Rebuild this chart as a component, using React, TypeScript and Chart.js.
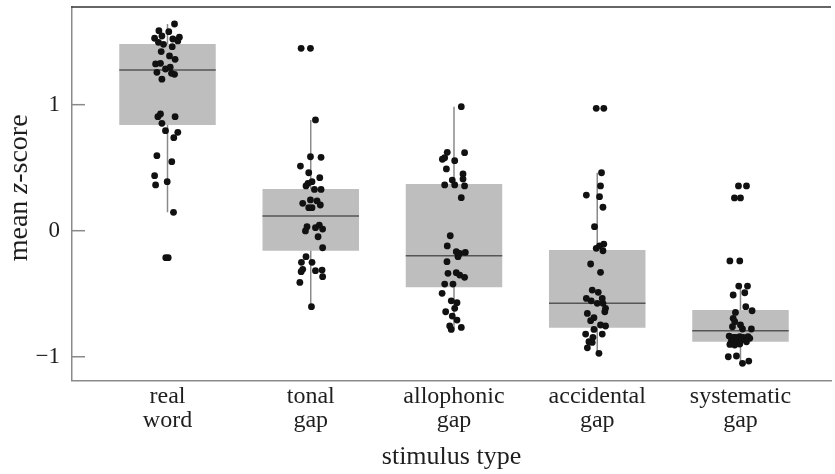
import React, { useEffect, useRef } from "react";
import { Chart, registerables } from "chart.js";

Chart.register(...registerables);

// ---- data ----
const categories: string[][] = [
  ["real", "word"],
  ["tonal", "gap"],
  ["allophonic", "gap"],
  ["accidental", "gap"],
  ["systematic", "gap"],
];

const yTickValues = [-1, 0, 1];

// box statistics per category
const boxQ1 = [0.839, -0.159, -0.449, -0.77, -0.881];
const boxMedian = [1.275, 0.117, -0.198, -0.576, -0.794];
const boxQ3 = [1.482, 0.331, 0.371, -0.153, -0.629];
const whiskerLow = [0.146, -0.603, -0.783, -0.973, -1.052];
const whiskerHigh = [1.64, 0.879, 0.984, 0.46, -0.439];

// individual (jittered) points
const realWordValues = [1.64, 1.587, 1.579, 1.527, 1.545, 1.521, 1.535, 1.506, 1.495, 1.479, 1.46, 1.421, 1.387, 1.36, 1.323, 1.328, 1.257, 1.283, 1.297, 1.249, 1.241, 1.202, 0.905, 0.926, 0.852, 0.905, 0.794, 0.781, 0.738, 0.595, 0.548, 0.437, 0.363, 0.389, 0.146, -0.214, -0.214];
const realWordJitter = [0.049, -0.06, 0.009, -0.09, -0.039, 0.037, 0.083, 0.072, -0.063, -0.028, 0.033, -0.044, 0.014, 0.053, -0.083, -0.049, -0.074, -0.014, 0.019, 0.028, 0.049, -0.039, -0.067, -0.049, -0.039, 0.053, -0.014, 0.072, 0.044, -0.074, 0.03, -0.09, -0.083, -0.002, 0.042, -0.012, 0.005];

const tonalValues = [1.447, 1.447, 0.879, 0.587, 0.582, 0.513, 0.46, 0.421, 0.389, 0.376, 0.355, 0.328, 0.328, 0.217, 0.244, 0.236, 0.204, 0.183, 0.183, 0.032, -0.002, 0.024, 0.045, 0.013, -0.048, -0.135, -0.206, -0.251, -0.251, -0.306, -0.325, -0.317, -0.312, -0.365, -0.41, -0.603];
const tonalJitter = [-0.067, -0.002, 0.033, -0.002, 0.072, -0.072, -0.014, 0.063, 0.009, -0.019, -0.033, 0.026, 0.072, -0.056, -0.002, 0.044, 0.067, -0.014, 0.009, -0.026, -0.037, 0.033, 0.06, 0.083, 0.051, 0.083, -0.033, -0.065, 0.009, -0.056, -0.067, 0.033, 0.079, 0.083, -0.076, 0.005];

const allophonicValues = [0.984, 0.622, 0.619, 0.567, 0.579, 0.556, 0.49, 0.45, 0.402, 0.41, 0.363, 0.363, 0.355, 0.262, -0.04, -0.121, -0.167, -0.18, -0.172, -0.206, -0.246, -0.338, -0.333, -0.352, -0.37, -0.423, -0.423, -0.497, -0.556, -0.571, -0.616, -0.643, -0.677, -0.709, -0.756, -0.767, -0.783];
const allophonicJitter = [0.051, -0.047, 0.074, -0.081, -0.065, 0.005, -0.053, 0.063, -0.012, 0.063, -0.065, 0.005, 0.074, 0.051, -0.026, -0.047, 0.016, 0.04, 0.079, 0.028, -0.049, -0.042, 0.016, 0.04, 0.074, -0.065, -0.007, -0.083, -0.019, 0.021, 0.005, -0.058, -0.012, 0.021, -0.03, 0.051, -0.019];

const accidentalValues = [0.971, 0.971, 0.46, 0.355, 0.283, 0.27, 0.186, 0.032, -0.14, -0.121, -0.106, -0.159, -0.264, -0.33, -0.471, -0.489, -0.537, -0.556, -0.537, -0.576, -0.576, -0.616, -0.643, -0.656, -0.69, -0.714, -0.748, -0.756, -0.783, -0.82, -0.82, -0.846, -0.881, -0.886, -0.929, -0.973];
const accidentalJitter = [-0.007, 0.046, 0.03, 0.023, -0.076, 0.016, 0.04, -0.019, -0.007, 0.016, 0.046, 0.04, -0.046, 0.023, -0.035, 0.007, -0.076, -0.042, 0.035, 0.0, 0.04, 0.058, 0.053, -0.069, -0.023, -0.046, 0.023, 0.058, -0.023, -0.081, 0.035, -0.03, -0.058, -0.035, -0.069, 0.012];

const systematicValues = [0.355, 0.355, 0.26, 0.26, -0.24, -0.24, -0.439, -0.439, -0.51, -0.492, -0.603, -0.635, -0.648, -0.695, -0.722, -0.748, -0.762, -0.78, -0.78, -0.836, -0.846, -0.846, -0.841, -0.846, -0.841, -0.854, -0.873, -0.873, -0.867, -0.881, -0.902, -0.907, -0.899, -1.0, -0.994, -1.052, -1.034];
const systematicJitter = [-0.014, 0.042, -0.042, 0.0, -0.074, -0.005, -0.012, 0.049, -0.051, 0.03, 0.037, 0.081, -0.035, -0.051, -0.04, 0.0, -0.056, 0.014, 0.076, -0.079, -0.051, -0.033, -0.005, 0.019, 0.053, 0.065, -0.063, -0.028, 0.007, 0.042, -0.074, -0.04, -0.005, -0.085, -0.028, 0.014, 0.058];

const groupValues = [realWordValues, tonalValues, allophonicValues, accidentalValues, systematicValues];
const groupJitter = [realWordJitter, tonalJitter, allophonicJitter, accidentalJitter, systematicJitter];

// ---- styling ----
const FONT = "'Liberation Serif', 'Times New Roman', serif";
const TEXT = "#1e1e1e";
const AXIS = "#8a8a8a";
const BOX_FRACTION = 97 / 144;
const BOX_HALF = BOX_FRACTION / 2;
const TITLE_SIZE = 26;
const Y_TITLE_SIZE = 28;

const inwardTicks = {
  id: "inwardTicks",
  afterDatasetsDraw(chart: any) {
    const { ctx, chartArea, scales } = chart;
    const y = scales.y;
    ctx.save();
    ctx.strokeStyle = AXIS;
    ctx.lineWidth = 1.5;
    yTickValues.forEach((v) => {
      const py = y.getPixelForValue(v);
      ctx.beginPath();
      ctx.moveTo(chartArea.left, py);
      ctx.lineTo(chartArea.left + 13, py);
      ctx.stroke();
    });
    // top frame line
    ctx.strokeStyle = "#333";
    ctx.lineWidth = 1.5;
    ctx.beginPath();
    ctx.moveTo(chartArea.left - 0.75, chartArea.top);
    ctx.lineTo(chartArea.right, chartArea.top);
    ctx.stroke();
    ctx.restore();
  },
};

const yTitle = {
  id: "yTitle",
  afterDraw(chart: any) {
    const { ctx, chartArea } = chart;
    const normal = `${Y_TITLE_SIZE}px ${FONT}`;
    const italic = `italic ${Y_TITLE_SIZE}px ${FONT}`;
    const parts: [string, string][] = [
      ["mean ", normal],
      ["z", italic],
      ["-score", normal],
    ];
    ctx.save();
    let total = 0;
    const widths = parts.map(([t, f]) => {
      ctx.font = f;
      const w = ctx.measureText(t).width;
      total += w;
      return w;
    });
    ctx.translate(20, (chartArea.top + chartArea.bottom) / 2 - 6);
    ctx.rotate(-Math.PI / 2);
    ctx.fillStyle = TEXT;
    ctx.textBaseline = "middle";
    ctx.textAlign = "left";
    let x = -total / 2;
    parts.forEach(([t, f], i) => {
      ctx.font = f;
      ctx.fillText(t, x, 0);
      x += widths[i];
    });
    ctx.restore();
  },
};

export default function App() {
  const ref = useRef<HTMLCanvasElement>(null);

  useEffect(() => {
    const canvas = ref.current;
    if (!canvas) return;

    const pointData: { x: number; y: number }[] = [];
    groupValues.forEach((vals, i) => {
      vals.forEach((v, j) => pointData.push({ x: i + 1 + groupJitter[i][j], y: v }));
    });

    const whiskerData: { x: number; y: number | null }[] = [];
    const medianData: { x: number; y: number | null }[] = [];
    categories.forEach((_, i) => {
      whiskerData.push({ x: i + 1, y: whiskerLow[i] }, { x: i + 1, y: whiskerHigh[i] }, { x: i + 1, y: null });
      medianData.push(
        { x: i + 1 - BOX_HALF, y: boxMedian[i] },
        { x: i + 1 + BOX_HALF, y: boxMedian[i] },
        { x: i + 1, y: null }
      );
    });
    const boxData = categories.map((_, i) => ({ x: i + 1, y: [boxQ1[i], boxQ3[i]] }));

    const chart = new Chart(canvas, {
      type: "scatter",
      data: {
        datasets: [
          {
            type: "line",
            data: whiskerData as any,
            borderColor: AXIS,
            borderWidth: 1.5,
            pointRadius: 0,
            spanGaps: false,
            order: 3,
          },
          {
            type: "bar",
            data: boxData as any,
            backgroundColor: "#bebebe",
            borderWidth: 0,
            barPercentage: BOX_FRACTION,
            categoryPercentage: 1,
            order: 2,
          },
          {
            type: "line",
            data: medianData as any,
            borderColor: "#555",
            borderWidth: 1.5,
            pointRadius: 0,
            spanGaps: false,
            order: 1,
          },
          {
            type: "scatter",
            data: pointData,
            backgroundColor: "#111",
            borderWidth: 0,
            pointRadius: 3.4,
            order: 0,
          },
        ],
      } as any,
      options: {
        animation: false,
        responsive: false,
        devicePixelRatio: 1,
        layout: { padding: { top: 7, right: 0, left: 0, bottom: 0 } },
        plugins: {
          legend: { display: false },
          tooltip: { enabled: false },
        },
        scales: {
          x: {
            type: "linear",
            min: 1 - 96 / 144,
            max: 1 + (835 - 168) / 144,
            offset: false,
            afterBuildTicks: (s: any) => {
              s.ticks = categories.map((_, i) => ({ value: i + 1 }));
            },
            afterFit: (s: any) => {
              s.height = 93.3;
              s.paddingLeft = 0;
              s.paddingRight = 0;
            },
            ticks: {
              autoSkip: false,
              maxRotation: 0,
              padding: 4,
              color: TEXT,
              font: { family: FONT, size: 24, lineHeight: 1.0 },
              callback: (v: any) => categories[Math.round(Number(v)) - 1] ?? "",
            },
            grid: { display: false, drawTicks: false },
            border: { display: true, color: AXIS, width: 1.5 },
            title: {
              display: true,
              text: "stimulus type",
              color: TEXT,
              font: { family: FONT, size: TITLE_SIZE, lineHeight: 1.2 },
              padding: { top: 0, bottom: 1.5 },
            },
          },
          y: {
            type: "linear",
            min: -1.19,
            max: 1.775,
            afterBuildTicks: (s: any) => {
              s.ticks = yTickValues.map((v) => ({ value: v }));
            },
            afterFit: (s: any) => {
              s.width = 72;
              s.paddingTop = 0;
              s.paddingBottom = 0;
            },
            ticks: {
              padding: 12,
              color: TEXT,
              font: { family: FONT, size: 23 },
              callback: (v: any) => (Number(v) < 0 ? "\u2212" + Math.abs(Number(v)) : String(v)),
            },
            grid: { display: false, drawTicks: false },
            border: { display: true, color: AXIS, width: 1.5 },
          },
        },
      } as any,
      plugins: [inwardTicks, yTitle],
    });

    return () => chart.destroy();
  }, []);

  return (
    <div style={{ position: "absolute", left: 0, top: 0, width: 835, height: 474 }}>
      <canvas ref={ref} width={835} height={474} style={{ display: "block", width: 835, height: 474 }} />
    </div>
  );
}
